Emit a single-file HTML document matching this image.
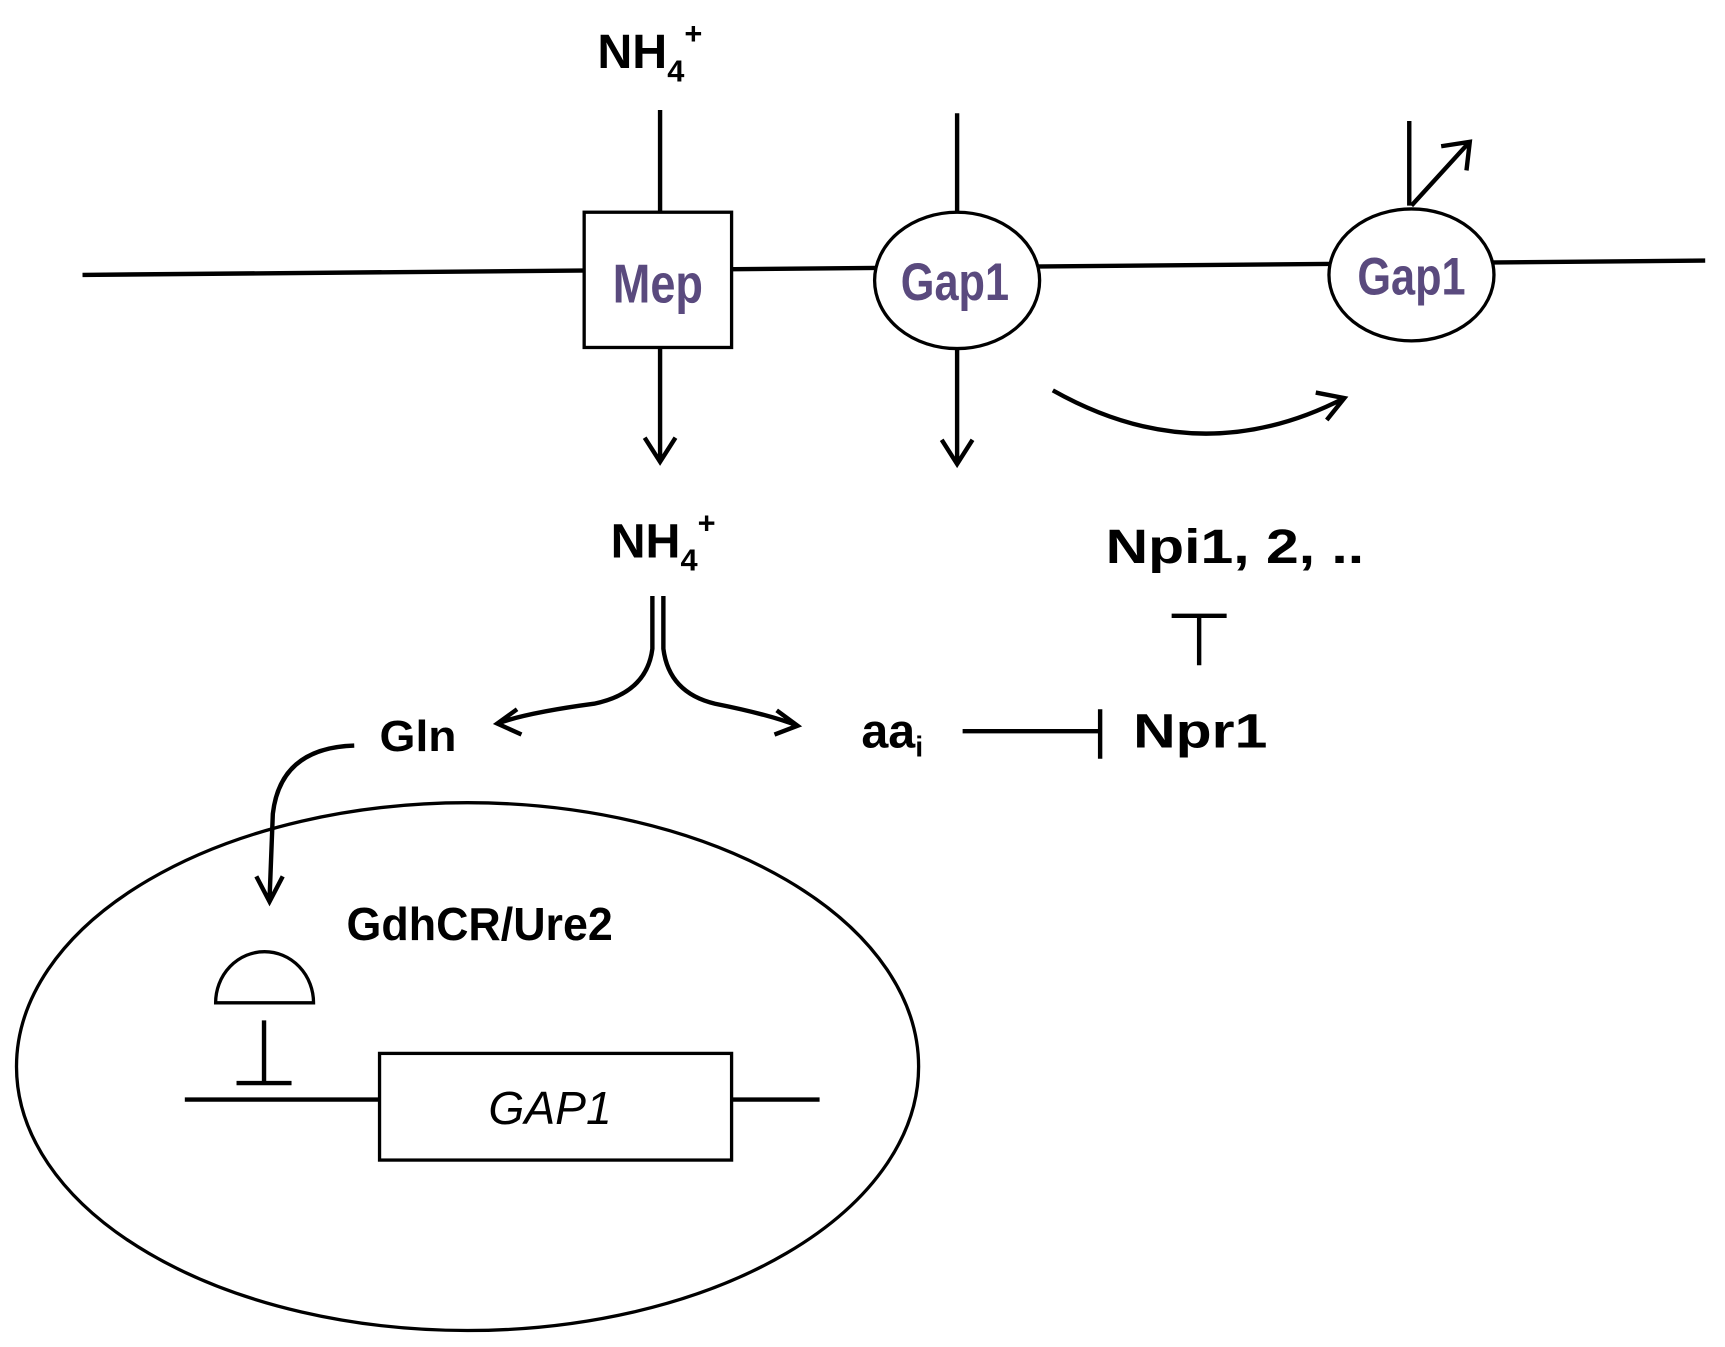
<!DOCTYPE html>
<html><head><style>html,body{margin:0;padding:0;background:#fff}svg{display:block}</style></head>
<body>
<svg width="1725" height="1347" viewBox="0 0 1568 1225" preserveAspectRatio="none" xmlns="http://www.w3.org/2000/svg">
<g fill="none" stroke="#000" stroke-width="4">
<line x1="75" y1="250" x2="1550" y2="237"/>
<line x1="600" y1="100" x2="600" y2="192"/>
<line x1="870" y1="103" x2="870" y2="193"/>
<line x1="1281" y1="110" x2="1281" y2="187"/>
<path d="M1283,187 L1335,130 M1310,133 L1336,129 L1333,155"/>
<path d="M600,316 V418 M586,398 L600,420 L614,398"/>
<path d="M870,317 V420 M856,400 L870,422 L884,400"/>
<path d="M957,355 Q1090,430 1222,362 M1196,357 L1222,362 L1206,382"/>
<path d="M1090,560 V605 M1065,560 H1115"/>
<path d="M875,665 H1000 M1000,645 V690"/>
<path d="M593,542 V590 Q588,630 540,640 Q480,648 452,658 M470,645 L452,658 L474,668"/>
<path d="M603,542 V590 Q608,630 650,640 Q700,650 725,660 M706,646 L725,660 L704,668"/>
<path d="M322,678 Q255,680 248,740 L245,818 M233,797 L245,820 L257,797"/>
</g>
<g stroke="#000" stroke-width="3">
<rect x="531" y="193" width="134" height="123" fill="#fff"/>
<ellipse cx="870" cy="255" rx="75" ry="62" fill="#fff"/>
<ellipse cx="1283" cy="250" rx="75" ry="60" fill="#fff"/>
<ellipse cx="425" cy="970" rx="410" ry="240" fill="none"/>
<path d="M196,912 A44,46 0 0 1 285,912 Z" fill="#fff"/>
</g>
<g stroke="#000" stroke-width="4" fill="none">
<path d="M240,928 V985 M215,985 H265"/>
<line x1="168" y1="1000" x2="745" y2="1000"/>
</g>
<rect x="345" y="958" width="320" height="97" fill="#fff" stroke="#000" stroke-width="3"/>
<g font-family="Liberation Sans, sans-serif" font-weight="bold" text-anchor="middle" fill="#5a4a7e">
<text x="598" y="275" font-size="50" transform="translate(598,275) scale(0.82,1) translate(-598,-275)">Mep</text>
<text x="868" y="273" font-size="48" transform="translate(868,273) scale(0.82,1) translate(-868,-273)">Gap1</text>
<text x="1283" y="268" font-size="48" transform="translate(1283,268) scale(0.82,1) translate(-1283,-268)">Gap1</text>
</g>
<g font-family="Liberation Sans, sans-serif" font-weight="bold" font-size="44" fill="#000">
<text x="543" y="62">NH<tspan font-size="28" dy="12">4</tspan><tspan font-size="28" dy="-34">+</tspan></text>
<text x="555" y="507">NH<tspan font-size="28" dy="12">4</tspan><tspan font-size="28" dy="-34">+</tspan></text>
<text x="1005" y="512" textLength="235" lengthAdjust="spacingAndGlyphs">Npi1, 2, ..</text>
<text x="1030" y="680" textLength="122" lengthAdjust="spacingAndGlyphs">Npr1</text>
<text x="783" y="680">aa<tspan font-size="26" dy="8">i</tspan></text>
<text x="345" y="683" font-size="40" textLength="70" lengthAdjust="spacingAndGlyphs">Gln</text>
<text x="315" y="855" font-size="42" textLength="242" lengthAdjust="spacingAndGlyphs">GdhCR/Ure2</text>
<text x="500" y="1022" font-size="42" font-weight="normal" font-style="italic" text-anchor="middle">GAP1</text>
</g>
</svg>
</body></html>
